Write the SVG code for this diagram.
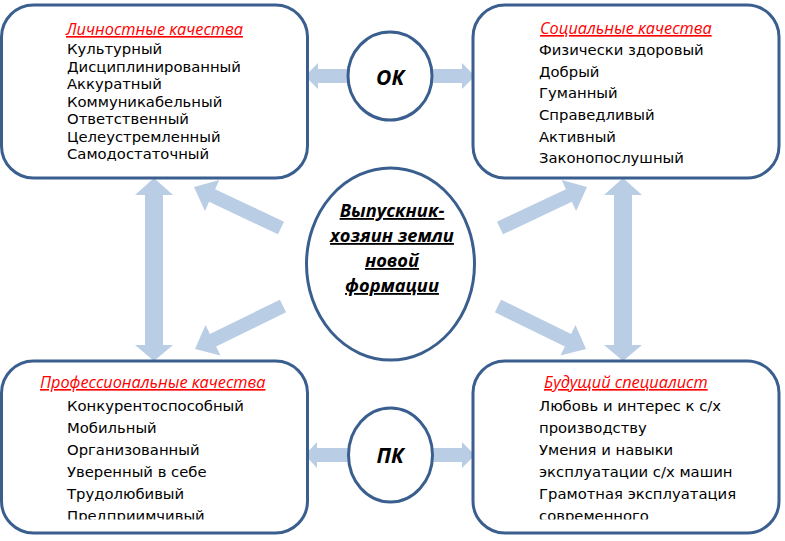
<svg xmlns="http://www.w3.org/2000/svg" width="785" height="541" viewBox="0 0 785 541">
<style>
.box{fill:#fff;stroke:#3a5f8f;stroke-width:3}
.circ{fill:#fff;stroke:#3a5f8f;stroke-width:3}
.arr{fill:#b9cde5;stroke:none}
.t{font-family:"DejaVu Sans","Open Sans",sans-serif;font-size:14.8px;fill:#000}
.h{font-family:"Open Sans","Liberation Sans",sans-serif;font-size:16.3px;fill:#ff0000;font-style:italic;text-decoration:underline}
.c{font-family:"Open Sans","Liberation Sans",sans-serif;font-size:18.3px;font-weight:bold;font-style:italic;text-decoration:underline;fill:#000;text-anchor:middle}
.k{font-family:"Open Sans","Liberation Sans",sans-serif;font-size:21px;font-weight:bold;font-style:italic;fill:#000;text-anchor:middle}
</style>
<defs>
<clipPath id="clipBL"><rect x="0" y="360" width="310" height="159.5"/></clipPath>
<clipPath id="clipBR"><rect x="470" y="360" width="312" height="159.5"/></clipPath>
</defs>
<rect width="785" height="541" fill="#fff"/>

<g id="connectors">
<polygon class="arr" points="154,178 173,195 163,195 163,345 173,345 154,361 135,345 145,345 145,195 135,195"/>
<polygon class="arr" points="623,178 642,195 632,195 632,345 642,345 623,361 604,345 614,345 614,195 604,195"/>
<polygon class="arr" points="284.0,221.7 215.1,189.2 219.3,180.1 194,187 204.9,210.9 209.1,201.8 278.0,234.3"/>
<polygon class="arr" points="497.0,221.7 565.9,189.2 561.7,180.1 587,187 576.1,210.9 571.9,201.8 503.0,234.3"/>
<polygon class="arr" points="279.9,299.7 209.9,333.9 205.5,324.9 195,349 220.5,355.5 216.1,346.5 286.1,312.3"/>
<polygon class="arr" points="501.1,299.7 571.1,333.9 575.5,324.9 586,349 560.5,355.5 564.9,346.5 494.9,312.3"/>
<polygon class="arr" points="350,69 318,69 318,63 305,76 318,89 318,83 350,83"/>
<polygon class="arr" points="430,69 462,69 462,63 475,76 462,89 462,83 430,83"/>
<polygon class="arr" points="350,448 317,448 317,442 305,455 317,468 317,462 350,462"/>
<polygon class="arr" points="430,448 462,448 462,442 475,455 462,468 462,462 430,462"/>
</g>

<g id="personal">
<rect class="box" x="1.5" y="5" width="306" height="173" rx="32"/>
<text class="h" x="66" y="35">Личностные качества</text>
<text class="t" x="67" y="54">Культурный</text>
<text class="t" x="67" y="71.5">Дисциплинированный</text>
<text class="t" x="67" y="89">Аккуратный</text>
<text class="t" x="67" y="106.5">Коммуникабельный</text>
<text class="t" x="67" y="124">Ответственный</text>
<text class="t" x="67" y="141.5">Целеустремленный</text>
<text class="t" x="67" y="159">Самодостаточный</text>
</g>

<g id="social">
<rect class="box" x="473" y="5" width="306" height="173" rx="32"/>
<text class="h" x="540" y="34">Социальные качества</text>
<text class="t" x="539" y="55">Физически здоровый</text>
<text class="t" x="539" y="77">Добрый</text>
<text class="t" x="539" y="98">Гуманный</text>
<text class="t" x="539" y="120">Справедливый</text>
<text class="t" x="539" y="142">Активный</text>
<text class="t" x="539" y="163">Законопослушный</text>
</g>

<g id="professional">
<rect class="box" x="1.5" y="361" width="306" height="172" rx="32"/>
<g clip-path="url(#clipBL)">
<text class="h" x="40" y="388">Профессиональные качества</text>
<text class="t" x="67" y="411">Конкурентоспособный</text>
<text class="t" x="67" y="433">Мобильный</text>
<text class="t" x="67" y="455">Организованный</text>
<text class="t" x="67" y="477">Уверенный в себе</text>
<text class="t" x="67" y="499">Трудолюбивый</text>
<text class="t" x="67" y="521">Предприимчивый</text>
</g>
</g>

<g id="specialist">
<rect class="box" x="473" y="361" width="306" height="172" rx="32"/>
<g clip-path="url(#clipBR)">
<text class="h" x="544" y="388">Будущий специалист</text>
<text class="t" x="539" y="411">Любовь и интерес к с/х</text>
<text class="t" x="539" y="433">производству</text>
<text class="t" x="539" y="455">Умения и навыки</text>
<text class="t" x="539" y="477">эксплуатации с/х машин</text>
<text class="t" x="539" y="499">Грамотная эксплуатация</text>
<text class="t" x="539" y="521">современного</text>
</g>
</g>

<g id="ok">
<ellipse class="circ" cx="390" cy="76" rx="42" ry="44"/>
<text class="k" x="390" y="85">ОК</text>
</g>

<g id="pk">
<ellipse class="circ" cx="390.5" cy="455" rx="42" ry="47"/>
<text class="k" x="390" y="463">ПК</text>
</g>

<g id="graduate">
<ellipse class="circ" cx="390.5" cy="264" rx="84" ry="96"/>
<text class="c" x="392" y="217">Выпускник-</text>
<text class="c" x="392" y="242">хозяин земли</text>
<text class="c" x="392" y="267">новой</text>
<text class="c" x="392" y="292">формации</text>
</g>
</svg>
